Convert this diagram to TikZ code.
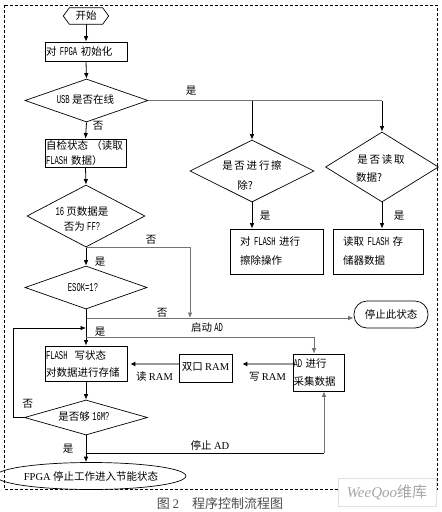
\documentclass[tikz,border=0pt]{standalone}
\usepackage{fontspec}
\setmainfont{Noto Sans CJK SC}
\newfontfamily\monof[FakeStretch=0.6]{Liberation Mono}
\newfontfamily\serf{Liberation Serif}
\newcommand\Mt[1]{{\fontsize{12pt}{\baselineskip}\selectfont\monof #1}}
\newcommand\St[1]{{\serf #1}}
\usetikzlibrary{arrows.meta,shapes.geometric,calc}
\begin{document}
\begin{tikzpicture}[x=1pt,y=-1pt,
  box/.style={draw, line width=0.7pt, inner xsep=1pt, inner ysep=0pt, align=left},
  dia/.style={diamond, draw, line width=0.7pt, inner sep=0pt},
  lab/.style={inner sep=0pt, font=\fontsize{10.5}{12}\selectfont},
  bl/.style={draw=black, line width=0.8pt},
  gl/.style={draw=black!55, line width=0.7pt},
  arr/.style={-{Latex[length=5.5pt,width=4.5pt]}},
  ramarr/.style={draw=black!40, line width=1.6pt, -{Latex[length=5pt,width=5pt,color=black]}}
]
\useasboundingbox (0,0) rectangle (442,512);
\fill[white] (0,0) rectangle (442,512);
\draw[dash pattern=on 3pt off 2pt, line width=0.7pt] (4,5) rectangle (437,489);

% start hexagon
\node[lab, minimum width=45pt, minimum height=16pt] (st) at (86,16) {开始};
\draw[line width=0.7pt] (st.west) -- ([xshift=6pt]st.north west) -- ([xshift=-6pt]st.north east) -- (st.east) -- ([xshift=-6pt]st.south east) -- ([xshift=6pt]st.south west) -- cycle;

% boxes
\node[box, text width=80pt, minimum height=19pt, font=\fontsize{10.5}{15}\selectfont] (init) at (86,51.5) {对 \Mt{FPGA} 初始化};
\node[box, text width=79pt, minimum height=28pt, font=\fontsize{10.5}{15}\selectfont] (self) at (85.5,153) {自检状态 （读取\\\Mt{FLASH} 数据）};
\node[box, inner xsep=10pt, text width=73pt, minimum height=45pt, font=\fontsize{10.5}{19}\selectfont] (erbox) at (276.5,251.5) {对 \Mt{FLASH} 进行\\擦除操作};
\node[box, inner xsep=10pt, text width=70pt, minimum height=45pt, font=\fontsize{10.5}{19}\selectfont] (rdbox) at (378,251.5) {读取 \Mt{FLASH} 存\\储器数据};
\node[box, text width=80pt, minimum height=35pt, font=\fontsize{10.5}{17}\selectfont] (flash) at (86,363.5) {\Mt{FLASH}~ 写状态\\对数据进行存储};
\node[draw, line width=0.7pt, inner sep=0pt, minimum width=53pt, minimum height=28pt, font=\fontsize{10.5}{12}\selectfont] (ram) at (205.5,368) {\raisebox{3pt}{双口 \St{RAM}}};
\node[box, inner xsep=0.5pt, text width=50pt, minimum height=37pt, font=\fontsize{10.5}{18}\selectfont] (ad) at (318.5,372.5) {\Mt{AD} 进行\\采集数据};
\node[draw, line width=0.7pt, rounded corners=13pt, minimum width=74pt, minimum height=27pt, inner sep=0pt, font=\fontsize{10.5}{12}\selectfont] (stop) at (391,314.5) {停止此状态};
\node[ellipse, draw, line width=0.7pt, minimum width=154pt, minimum height=27pt, inner sep=0pt, font=\fontsize{10.5}{12}\selectfont] (endell) at (91,476) {\St{FPGA} 停止工作进入节能状态};

% diamonds
\node[dia, minimum width=123pt, minimum height=43pt] (usb) at (86.5,100.5) {};
\node[lab] (usbt) at (85.5,100) {\Mt{USB} 是否在线};
\node[dia, minimum width=118pt, minimum height=62pt] (ff) at (86,216) {};
\node[lab, align=center, font=\fontsize{10.5}{15}\selectfont] (fft) at (82,219.5) {\Mt{16} 页数据是\\否为 \Mt{FF?}};
\node[dia, minimum width=122pt, minimum height=43pt] (esok) at (86,287.5) {};
\node[lab] (esokt) at (83,288) {\Mt{ESOK=1?}};
\node[dia, minimum width=124pt, minimum height=62pt] (erdia) at (252,171) {};
\node[lab] (ert1) at (252,166) {是\,否\,进\,行\,擦};
\node[lab] (ert2) at (245,185) {除?};
\node[dia, minimum width=113pt, minimum height=70pt] (rddia) at (382,167) {};
\node[lab] (rdt1) at (381,160) {是\,否\,读\,取};
\node[lab] (rdt2) at (369,178) {数据?};
\node[dia, minimum width=123pt, minimum height=35pt] (m16) at (86,417.5) {};
\node[lab] (m16t) at (84,417) {是否够 \Mt{16M?}};

% connectors
\draw[bl,arr] (st.south) -- (init.north);
\draw[bl,arr] (init.south) -- (usb.north);
\draw[bl,arr] (usb.south) -- (self.north);
\node[lab] (l1) at (98,126) {否};
\draw[gl] (usb.east) -- (usb.east -| rddia.north);
\draw[bl,arr] (usb.east -| erdia.north) -- (erdia.north);
\draw[bl,arr] (usb.east -| rddia.north) -- (rddia.north);
\node[lab] (l2) at (191,91) {是};
\draw[bl,arr] (erdia.south) -- (erdia.south |- erbox.north);
\node[lab] (l3) at (265,216) {是};
\draw[bl,arr] (rddia.south) -- (rddia.south |- rdbox.north);
\node[lab] (l4) at (399,216) {是};

\draw[bl,arr] (self.south) -- (ff.north);
\draw[bl,arr] (ff.south) -- (esok.north);
\node[lab] (l5) at (100,262) {是};
\coordinate (j3) at (190,318);
\draw[gl,arr] (ff.south) -| (j3);
\node[lab] (l6) at (151,240) {否};
\coordinate (j2) at (86,318);
\draw[gl,arr] (j2) -- (j2 -| stop.west);
\node[lab] (l7) at (162,313) {否};
\draw[bl,arr] (esok.south) -- (flash.north);
\coordinate (j4) at (86,337);
\coordinate (adin) at ([xshift=-4.5pt]ad.north);
\draw[gl,arr] (j4) -| (adin);
\node[lab] (l8) at (207,328) {启动 \Mt{AD}};
\coordinate (j5) at (86,328);
\draw[bl,arr] (m16.west) -- ++(-11,0) |- (j5);
\node[lab] (l9) at (100,332) {是};
\node[lab] (l10) at (28,404) {否};
\draw[bl,arr] (flash.south) -- (m16.north);
\draw[bl,arr] (m16.south) -- (m16.south |- endell.north);
\node[lab] (l11) at (68,449) {是};
\coordinate (j6) at (86,453);
\coordinate (j7) at (324,453);
\draw[bl] (j6) -- (j7);
\draw[gl,arr] (j7) -- (j7 |- ad.south);
\node[lab] (l12) at (210,445) {停止 \St{AD}};
\coordinate (ry) at (0,364);
\draw[ramarr, shorten >=10pt] (ad.west |- ry) -- (ram.east |- ry);
\draw[ramarr, shorten >=3pt] (ram.west |- ry) -- (flash.east |- ry);
\node[lab] (l13) at (154.5,377) {读 \St{RAM}};
\node[lab] (l14) at (267.5,377) {写 \St{RAM}};

% caption and watermark
\node[inner sep=0pt, text=black!70, font=\fontsize{13}{14}\selectfont] (cap) at (220,504) {图 \St{2}\quad 程序控制流程图};
\node[draw=black!12, fill=white, minimum width=98pt, minimum height=28pt, inner sep=0pt, text=black!35, font=\fontsize{15}{15}\selectfont] (wm) at (387,492) {{\serf\itshape WeeQoo}维库};
\end{tikzpicture}
\end{document}
